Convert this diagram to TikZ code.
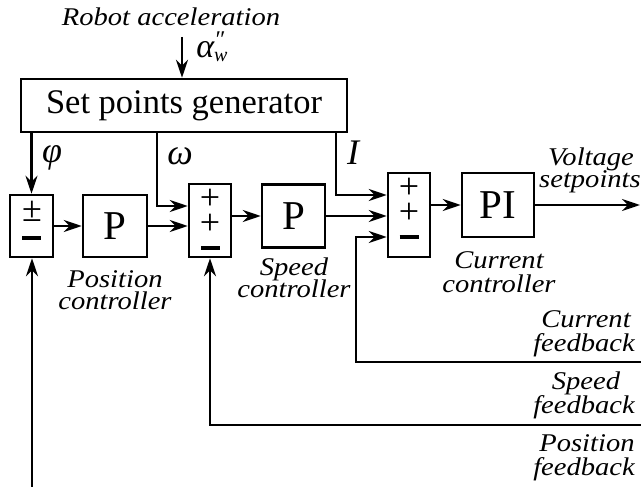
\documentclass[tikz,border=0pt]{standalone}
\usepackage{fontspec}
\setmainfont{Liberation Serif}
\newfontfamily\labfont[FakeStretch=1.12]{Liberation Serif}
\usetikzlibrary{arrows.meta}
\begin{document}
\begin{tikzpicture}[x=1pt,y=-1pt,line width=2.5pt,
  blk/.style={draw,line width=2.5pt,inner sep=0pt},
  arr/.style={-{Stealth[length=18pt,width=12pt,inset=6pt]}},
  lab/.style={font=\labfont\itshape\fontsize{25.5}{22}\selectfont,inner sep=0pt,anchor=base},
  sym/.style={font=\itshape\fontsize{36}{36}\selectfont,inner sep=0pt},
  sgn/.style={font=\fontsize{36}{36}\selectfont,inner sep=0pt,text height=12pt,text depth=0pt},
  bar/.style={line width=3.6pt}]
\useasboundingbox (0,0) rectangle (641,487);
% blocks
\node[blk,minimum width=326pt,minimum height=53pt,font=\fontsize{34.5}{34.5}\selectfont] (gen) at (184,105.5) {Set points generator};
\node[blk,minimum width=43pt,minimum height=62pt] (s1) at (31.5,226) {};
\node[blk,minimum width=64pt,minimum height=62pt,font=\fontsize{41}{41}\selectfont] (p1) at (115,226) {P};
\node[blk,minimum width=42pt,minimum height=73pt] (s2) at (210,220.5) {};
\node[blk,minimum width=63pt,minimum height=63pt,font=\fontsize{41}{41}\selectfont] (p2) at (293.5,216) {P};
\node[blk,minimum width=42pt,minimum height=84pt] (s3) at (409,215) {};
\node[blk,minimum width=72pt,minimum height=64pt,font=\fontsize{41}{41}\selectfont] (pi) at (498,205) {PI};
% signs
\node[sgn] (s1a) at (32,216) {±};
\draw[bar] (22,238) -- (41,238);
\node[sgn] (s2a) at (210,203) {+};
\node[sgn] (s2b) at (210,228) {+};
\draw[bar] (201,248) -- (220,248);
\node[sgn] (s3a) at (409,193) {+};
\node[sgn] (s3b) at (409,217) {+};
\draw[bar] (399.5,237) -- (418.5,237);
% top input
\node[lab] (acc) at (171,26) {Robot acceleration};
\coordinate (ain) at (182,37);
\draw[arr] (ain) -- (ain |- gen.north);
\node[inner sep=0pt,anchor=base west,font=\itshape\fontsize{34}{34}\selectfont] (alpha) at (195,58)
  {α\rlap{\raisebox{10pt}{\fontsize{24}{24}\selectfont ″}}\raisebox{-4pt}{\fontsize{20}{20}\selectfont w}};
% setpoint lines
\draw[arr] (s1.north |- gen.south) -- (s1.north);
\node[sym] (phi) at (52,158) {φ};
\coordinate (wk) at (157,206);
\draw[arr] (wk |- gen.south) -- (wk) -- (wk -| s2.west);
\node[sym] (om) at (180,156) {ω};
\coordinate (ik) at (336,195);
\draw[arr] (ik |- gen.south) -- (ik) -- (ik -| s3.west);
\node[sym] (ii) at (353,153) {I};
% forward path
\draw[arr] (s1.east) -- (p1.west);
\draw[arr] (p1.east) -- (p1.east -| s2.west);
\draw[arr] (p2.west -| s2.east) -- (p2.west);
\draw[arr] (p2.east) -- (p2.east -| s3.west);
\draw[arr] (pi.west -| s3.east) -- (pi.west);
\coordinate (vout) at (640,205);
\draw[arr] (pi.east) -- (vout);
% feedbacks
\coordinate (cf) at (641,362);
\coordinate (cfk) at (356,237);
\draw[arr] (cf) -- (cf -| cfk) -- (cfk) -- (cfk -| s3.west);
\coordinate (sf) at (641,425);
\draw[arr] (sf) -- (sf -| s2.south) -- (s2.south);
\coordinate (pf) at (32,487);
\draw[arr] (pf) -- (pf |- s1.south);
% labels
\node[lab] (l1a) at (115,287) {Position};
\node[lab] (l1b) at (115,309) {controller};
\node[lab] (l2a) at (294,275) {Speed};
\node[lab] (l2b) at (294,297) {controller};
\node[lab] (l3a) at (499,268) {Current};
\node[lab] (l3b) at (499,292) {controller};
\node[lab] (l4a) at (591,165) {Voltage};
\node[lab] (l4b) at (590,187) {setpoints};
\node[lab] (l5a) at (586,327) {Current};
\node[lab] (l5b) at (584,351) {feedback};
\node[lab] (l6a) at (586,389) {Speed};
\node[lab] (l6b) at (584,413) {feedback};
\node[lab] (l7a) at (587,451) {Position};
\node[lab] (l7b) at (584,475) {feedback};
\end{tikzpicture}
\end{document}
